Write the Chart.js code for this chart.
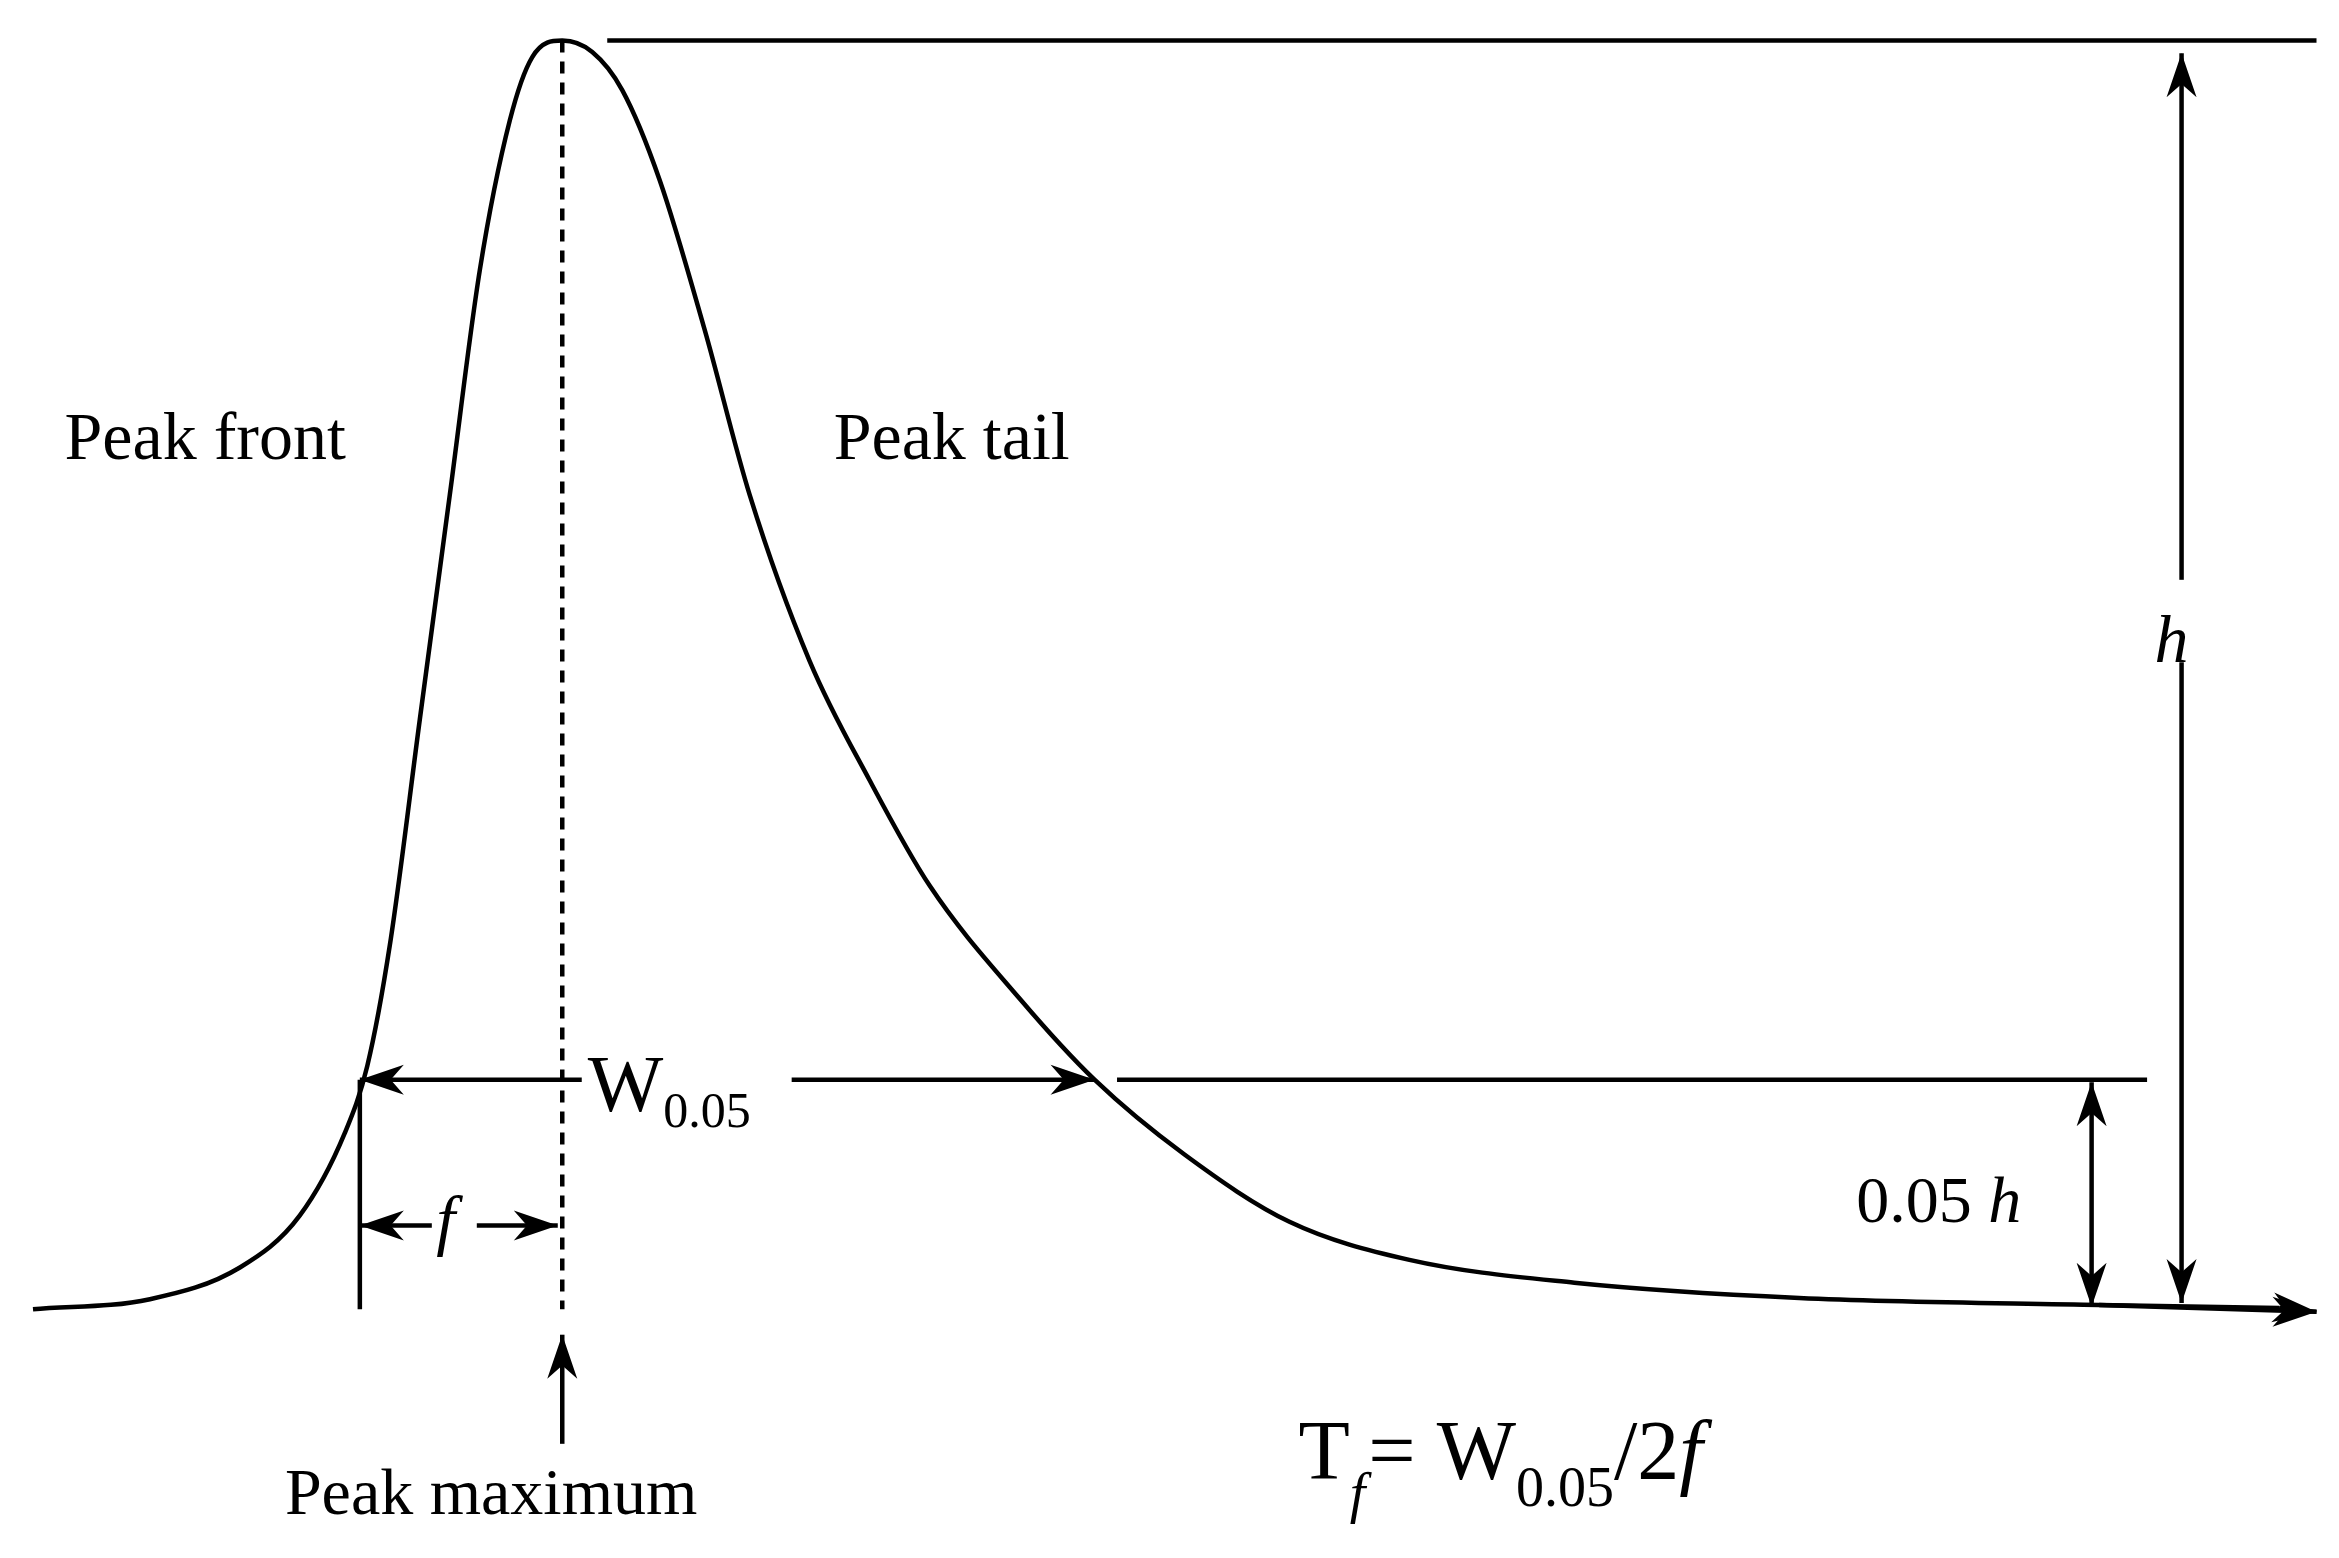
<!DOCTYPE html>
<html>
<head>
<meta charset="utf-8">
<script src="https://cdn.jsdelivr.net/npm/chart.js@4/dist/chart.umd.min.js"></script>
<style>
  html, body { margin: 0; padding: 0; background: #fff; }
  #wrap { width: 2339px; height: 1558px; }
</style>
</head>
<body>
<div id="wrap"><canvas id="peak"></canvas></div>
<script>
// peak profile: retention time (arbitrary units) and signal (% of peak height)
var times = [22, 100, 160, 200, 230, 245, 260, 280, 300, 320, 340, 355, 375, 395, 415, 440, 470, 500, 540, 580, 620, 680, 730, 790, 860, 940, 1050, 1200, 1400, 1520];
var signal = [0, 0.8, 3.3, 7.4, 13.9, 19.2, 28.7, 46.5, 64.2, 81.9, 93.7, 98.7, 100, 99.1, 96.1, 89.0, 77.2, 64.2, 51.1, 41.7, 33.4, 24.5, 18.1, 12.2, 6.9, 3.9, 2.1, 0.9, 0.35, 0.1];
var peakTime = 375, frontTime = 240, tailTime = 730, fifthLevel = 18.1;

var points = times.map(function(t, i) { return { x: t, y: signal[i] }; });

var serif = '"Liberation Serif", "DejaVu Serif", serif';

function arrowHead(ctx, x1, y1, x2, y2) {
    var a = Math.atan2(y2 - y1, x2 - x1), L = 44, W = 15;
    ctx.beginPath();
    ctx.moveTo(x2, y2);
    ctx.lineTo(x2 - L * Math.cos(a) + W * Math.sin(a), y2 - L * Math.sin(a) - W * Math.cos(a));
    ctx.lineTo(x2 - L * 0.7 * Math.cos(a), y2 - L * 0.7 * Math.sin(a));
    ctx.lineTo(x2 - L * Math.cos(a) - W * Math.sin(a), y2 - L * Math.sin(a) + W * Math.cos(a));
    ctx.closePath();
    ctx.fill();
}
function line(ctx, x1, y1, x2, y2) {
    ctx.beginPath(); ctx.moveTo(x1, y1); ctx.lineTo(x2, y2); ctx.stroke();
}
function arrow(ctx, x1, y1, x2, y2, both) {
    line(ctx, x1, y1, x2, y2);
    arrowHead(ctx, x1, y1, x2, y2);
    if (both) arrowHead(ctx, x2, y2, x1, y1);
}
function txt(ctx, s, x, y, size, italic) {
    ctx.font = (italic ? 'italic ' : '') + size + 'px ' + serif;
    ctx.fillText(s, x, y);
    return x + ctx.measureText(s).width;
}

var annotations = {
    id: 'annotations',
    afterDatasetsDraw: function(chart) {
        var ctx = chart.ctx, xs = chart.scales.x, ys = chart.scales.y;
        var X = function(v) { return xs.getPixelForValue(v); };
        var Y = function(v) { return ys.getPixelForValue(v); };
        ctx.save();
        ctx.strokeStyle = '#000'; ctx.fillStyle = '#000';
        ctx.lineWidth = 4.5; ctx.lineCap = 'butt';

        // dashed peak maximum line
        ctx.setLineDash([12, 9]);
        line(ctx, X(peakTime), Y(100), X(peakTime), Y(0));
        ctx.setLineDash([]);

        // top line, h arrow
        line(ctx, X(405), Y(100), X(1545), Y(100));
        arrow(ctx, X(1455), Y(99), X(1455), Y(0.5), true);
        // 5% line and 0.05h arrow
        line(ctx, X(745), Y(fifthLevel), X(1432), Y(fifthLevel));
        arrow(ctx, X(1395), Y(fifthLevel - 0.2), X(1395), Y(0.2), true);
        // baseline arrow
        arrow(ctx, X(1520), Y(0.1), X(1545), Y(-0.2), false);
        ctx.beginPath(); ctx.moveTo(X(1400), Y(0.35)); ctx.lineTo(X(1545), Y(-0.2)); ctx.stroke();
        arrowHead(ctx, X(1400), Y(-0.2), X(1545), Y(-0.2));

        // W0.05 arrow
        arrow(ctx, X(frontTime), Y(fifthLevel), X(tailTime), Y(fifthLevel), true);
        // front vertical
        line(ctx, X(frontTime), Y(fifthLevel), X(frontTime), Y(0));
        // f arrow
        arrow(ctx, X(frontTime), Y(6.6), X(372), Y(6.6), true);
        // peak maximum arrow
        arrow(ctx, X(peakTime), Y(-10.6), X(peakTime), Y(-2), false);

        // label backgrounds
        ctx.fillStyle = '#fff';
        ctx.fillRect(X(388), Y(20.5), X(528) - X(388), Y(13) - Y(20.5));
        ctx.fillRect(X(1436), Y(57.5), X(1474) - X(1436), Y(51) - Y(57.5));
        ctx.fillRect(X(288), Y(10), X(318) - X(288), Y(3.5) - Y(10));
        ctx.fillStyle = '#000';

        ctx.textBaseline = 'alphabetic';
        txt(ctx, 'Peak front', X(43), Y(-10.7) + 0 * 0 + (Y(67) - Y(-10.7)) * 0 + (Y(67.0) - Y(-10.7)) + 0, 68, false);
        txt(ctx, 'Peak tail', X(556), Y(67), 68, false);
        txt(ctx, 'h', X(1437), Y(51), 68, true);
        var x = txt(ctx, '0.05 ', X(1238), Y(6.9), 66, false);
        txt(ctx, 'h', x, Y(6.9), 66, true);
        x = txt(ctx, 'W', X(392), Y(15.6), 80, false);
        txt(ctx, '0.05', x, Y(14.4), 50, false);
        txt(ctx, 'f', X(291), Y(5.2), 68, true);
        txt(ctx, 'Peak maximum', X(190), Y(-16.1), 66, false);

        x = txt(ctx, 'T', X(866), Y(-13.4), 84, false);
        x = txt(ctx, 'f', x, Y(-16), 56, true);
        x = txt(ctx, '= W', x + 3, Y(-13.4), 84, false);
        x = txt(ctx, '0.05', x, Y(-15.5), 56, false);
        x = txt(ctx, '/2', x, Y(-13.4), 84, false);
        txt(ctx, 'f', x, Y(-13.4), 84, true);
        ctx.restore();
    }
};

new Chart(document.getElementById('peak'), {
    type: 'line',
    data: {
        datasets: [{
            data: points,
            borderColor: '#000',
            borderWidth: 4.5,
            pointRadius: 0,
            fill: false,
            cubicInterpolationMode: 'monotone'
        }]
    },
    options: {
        responsive: true,
        maintainAspectRatio: false,
        animation: false,
        devicePixelRatio: 1,
        layout: { padding: 0 },
        plugins: { legend: { display: false }, tooltip: { enabled: false } },
        scales: {
            x: { type: 'linear', min: 0, max: 1560, display: false },
            y: { type: 'linear', min: -19.6, max: 103.2, display: false }
        }
    },
    plugins: [annotations]
});
</script>
</body>
</html>
